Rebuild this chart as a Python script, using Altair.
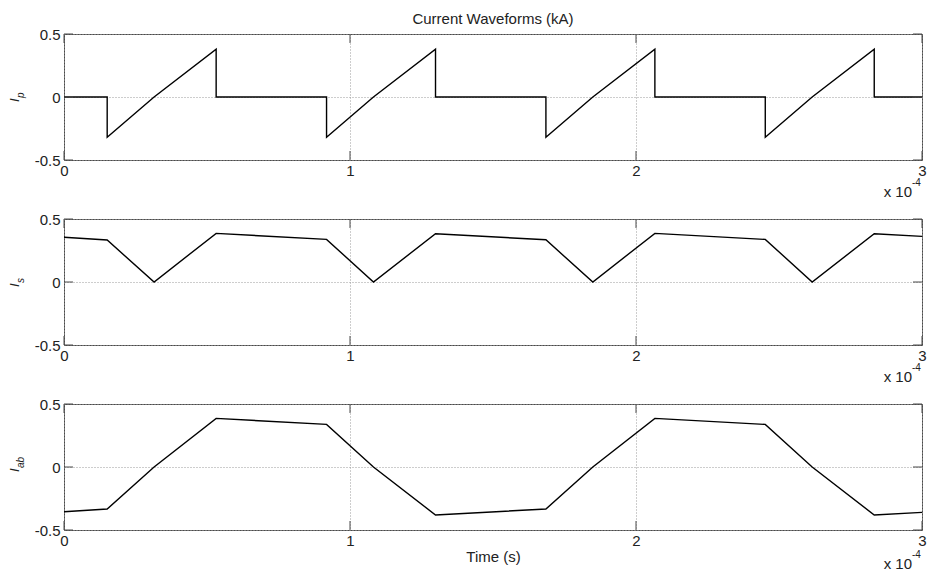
import altair as alt
import pandas as pd

# ---------------- data (time in units of 1e-4 s, current in kA) ----------------
t_p = [0, 0.151, 0.151, 0.315, 0.532, 0.532, 0.918, 0.918, 1.082, 1.299, 1.299,
       1.685, 1.685, 1.849, 2.066, 2.066, 2.452, 2.452, 2.616, 2.833, 2.833, 3.0]
i_p = [0, 0, -0.32, 0, 0.38, 0, 0, -0.32, 0, 0.38, 0,
       0, -0.32, 0, 0.38, 0, 0, -0.32, 0, 0.38, 0, 0]

t_s = [0, 0.151, 0.315, 0.532, 0.918, 1.082, 1.299, 1.685, 1.849, 2.066, 2.452, 2.616, 2.833, 3.0]
i_s = [0.355, 0.333, 0, 0.386, 0.338, 0, 0.383, 0.335, 0, 0.386, 0.338, 0, 0.383, 0.362]

t_ab = [0, 0.151, 0.315, 0.532, 0.918, 1.082, 1.299, 1.685, 1.849, 2.066, 2.452, 2.616, 2.833, 3.0]
i_ab = [-0.355, -0.333, 0, 0.386, 0.338, 0, -0.381, -0.333, 0, 0.386, 0.338, 0, -0.381, -0.36]

x_ticks = [0, 1, 2, 3]
x_tick_labels = ["0", "1", "2", "3"]
y_ticks = [-0.5, 0, 0.5]
y_tick_labels = ["-0.5", "0", "0.5"]

title_text = "Current Waveforms (kA)"
x_title = "Time (s)"
exp_base = "x 10"
exp_power = "-4"

# ---------------- styling ----------------
W, H = 858, 126
FONT = "Liberation Sans"
FRAME = "#4a4a4a"
TICK = 9


def label_expr(vals, labels):
    expr = "''"
    for v, l in reversed(list(zip(vals, labels))):
        expr = f"(abs(datum.value - ({v})) < 1e-9 ? '{l}' : {expr})"
    return expr


def panel(t, v, sub, exp_off, xtitle=None, title=None):
    df = pd.DataFrame({"t": t, "v": v})
    xscale = alt.Scale(domain=[0, 3], nice=False, zero=False)
    yscale = alt.Scale(domain=[-0.5, 0.5], nice=False, zero=False)
    xaxis_kwargs = dict(
        values=x_ticks, labelExpr=label_expr(x_ticks, x_tick_labels),
        grid=True, gridDash=[1, 2], gridColor="#9a9a9a", gridWidth=1,
        ticks=False, domain=False, labelFont=FONT, labelFontSize=15,
        labelColor="#222", labelPadding=3, labelFlush=False, labelOverlap=False,
    )
    if xtitle:
        xaxis_kwargs.update(title=xtitle, titleFont=FONT, titleFontSize=15,
                            titleFontWeight="normal", titleColor="#222", titlePadding=1)
    else:
        xaxis_kwargs.update(title=None)
    xaxis = alt.Axis(**xaxis_kwargs)
    yaxis = alt.Axis(
        values=y_ticks, labelExpr=label_expr(y_ticks, y_tick_labels),
        grid=True, gridDash=[1, 2], gridColor="#9a9a9a", gridWidth=1,
        ticks=False, domain=False, labelFont=FONT, labelFontSize=15,
        labelColor="#222", labelPadding=4, labelFlush=False, labelOverlap=False,
        title=None,
    )

    line = alt.Chart(df).mark_line(color="black", strokeWidth=1.4).encode(
        x=alt.X("t:Q", scale=xscale, axis=xaxis),
        y=alt.Y("v:Q", scale=yscale, axis=yaxis),
        order="index:Q",
    ).transform_window(index="row_number()")

    xt = pd.DataFrame({"t": x_ticks})
    yt = pd.DataFrame({"v": y_ticks})
    tick_b = alt.Chart(xt).mark_rule(color=FRAME, strokeWidth=1).encode(
        x=alt.X("t:Q"), y=alt.value(H), y2=alt.value(H - TICK))
    tick_t = alt.Chart(xt).mark_rule(color=FRAME, strokeWidth=1).encode(
        x=alt.X("t:Q"), y=alt.value(0), y2=alt.value(TICK))
    tick_l = alt.Chart(yt).mark_rule(color=FRAME, strokeWidth=1).encode(
        y=alt.Y("v:Q"), x=alt.value(0), x2=alt.value(TICK))
    tick_r = alt.Chart(yt).mark_rule(color=FRAME, strokeWidth=1).encode(
        y=alt.Y("v:Q"), x=alt.value(W), x2=alt.value(W - TICK))

    one = pd.DataFrame({"a": [1]})
    lab_i = alt.Chart(one).mark_text(
        text="I", angle=270, align="left", baseline="alphabetic",
        font=FONT, fontSize=13, fontStyle="italic", color="#222",
    ).encode(x=alt.value(-45), y=alt.value(H / 2 + 5))
    lab_sub = alt.Chart(one).mark_text(
        text=sub, angle=270, align="left", baseline="alphabetic",
        font=FONT, fontSize=10, fontStyle="italic", color="#222",
    ).encode(x=alt.value(-40), y=alt.value(H / 2 + 1))

    exp1 = alt.Chart(one).mark_text(
        text=exp_base, align="right", baseline="middle",
        font=FONT, fontSize=15, color="#222",
    ).encode(x=alt.value(W - 10), y=alt.value(H + exp_off))
    exp2 = alt.Chart(one).mark_text(
        text=exp_power, align="left", baseline="middle",
        font=FONT, fontSize=10, color="#222",
    ).encode(x=alt.value(W - 10), y=alt.value(H + exp_off - 9))

    layer = alt.layer(line, tick_b, tick_t, tick_l, tick_r, lab_i, lab_sub, exp1, exp2).properties(
        width=W, height=H)
    if title:
        layer = layer.properties(title=alt.TitleParams(
            text=title, font=FONT, fontSize=15, fontWeight="normal",
            color="#222", anchor="middle", offset=0))
    return layer


p1 = panel(t_p, i_p, "p", 32, title=title_text)
p2 = panel(t_s, i_s, "s", 32)
p3 = panel(t_ab, i_ab, "ab", 34, xtitle=x_title)

chart = alt.vconcat(p1, p2, p3, spacing=59, bounds="flush").properties(
    autosize=alt.AutoSizeParams(type="pad"),
    padding={"left": 8, "top": 11, "right": 5, "bottom": 5},
    background="white",
).configure_view(stroke=FRAME, strokeWidth=1).configure_concat(spacing=59)

chart.save("out.html", embed_options={"renderer": "svg", "actions": False})
